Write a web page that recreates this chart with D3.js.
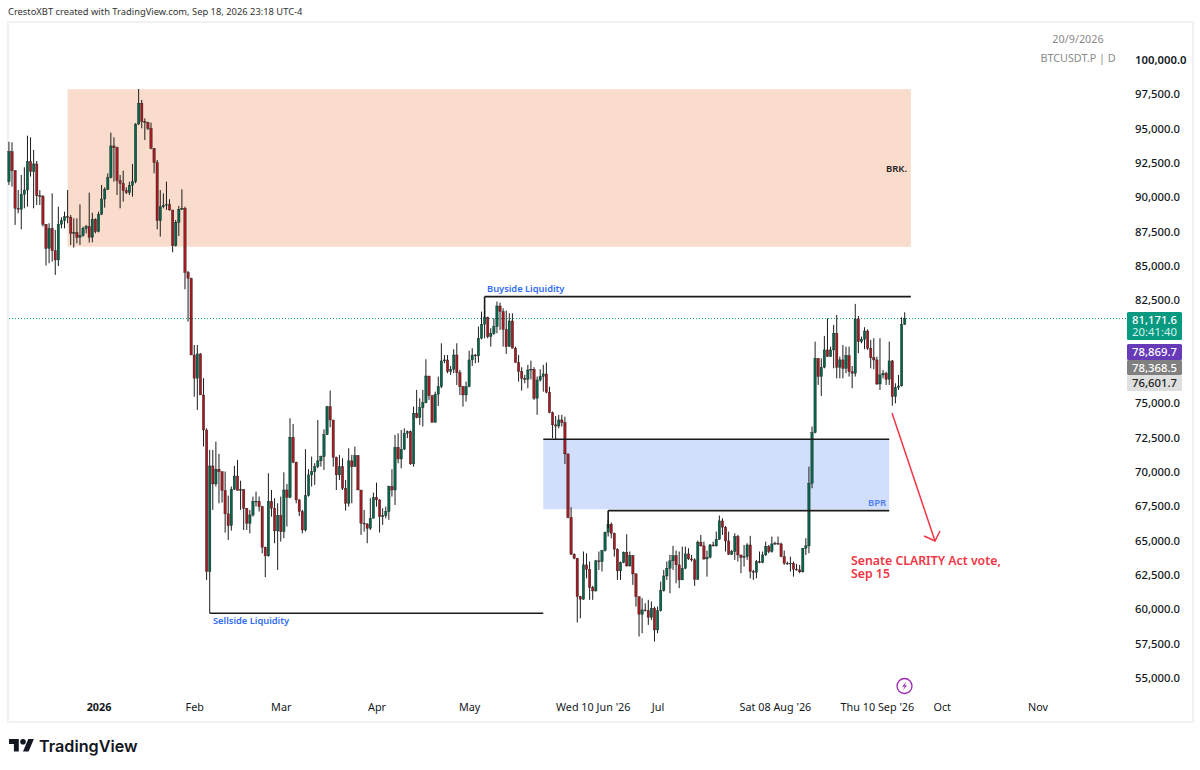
<!DOCTYPE html>
<html><head><meta charset="utf-8">
<script src="https://cdn.jsdelivr.net/npm/d3@7/dist/d3.min.js"></script>
<style>
html,body{margin:0;padding:0;background:#fff;overflow:hidden}
svg{display:block}
text{font-family:"Noto Sans","Open Sans",sans-serif}
</style></head><body>
<svg id="c" width="1200" height="770"></svg>
<script>
// Daily BTCUSDT.P candles, starting 3 Dec 2025, one per day
const firstDay = "2025-12-03";
const firstOpen = 91140;
const closes = [93330,91940,89200,89130,90220,90530,92600,91870,92430,90120,90070,88040,86290,87740,86120,85440,88040,88300,88590,88550,87380,87430,87090,87210,87740,87870,87090,88400,87500,88760,89880,90580,91430,93740,93620,91210,91020,90490,90340,90880,91140,95340,96850,95510,95440,95030,93570,92530,88300,89320,89420,89470,89080,86480,88180,89130,89200,84540,84100,78520,
76830,78600,75610,73060,62750,70440,69130,70200,70030,68650,66950,66100,68740,69710,68650,68740,67360,66270,66870,67870,67870,67480,64520,63890,67870,67360,65710,66830,65660,68690,68160,72530,70710,67970,67120,65780,68280,69790,70030,70390,70810,71120,72720,74760,73790,71070,69790,70390,68820,67720,70810,70390,71190,68690,66270,66220,65900,66630,68160,67970,66750,66830,67120,68940,68690,71800,70950,71660,72820,72940,70590,74280,73960,74690,
75050,76990,75560,73620,75660,76220,78090,78160,77310,77480,78520,77240,76220,75610,76220,78160,78520,78450,79740,80760,81270,79860,80100,80590,82090,81680,80390,79130,81000,79010,77970,77310,76820,76750,77430,77480,75370,76700,76950,77140,75810,74330,73430,73350,73790,73600,71320,66700,
64010,63720,60930,60740,63240,62920,61580,61340,63530,63480,64280,65610,66200,65540,64380,62800,63400,64160,63160,63910,62580,60930,59640,59960,59910,59420,60080,58500,59910,61370,62430,62990,63530,63910,63240,62140,62990,64040,63670,63600,62190,64890,64620,63670,63790,64690,64620,65100,66440,65980,64980,64010,64210,65300,63960,63770,63840,64690,62750,62700,63480,63400,63960,64570,64210,64760,64810,64760,63840,63360,63330,63360,62920,62870,62730,64450,64620,69180,72870,
78280,76950,77630,78890,78400,78890,80100,77630,78160,77550,78480,77310,77190,81150,79490,79660,80270,79010,78330,78160,76410,77070,77190,76750,78090,75490,76150,76270,80760,81171.6];
const highs = [94050,94010,91990,90530,91630,92190,94490,94370,93450,92650,90530,90170,88040,88110,90290,87620,89320,88550,88960,90530,88710,88470,88470,89490,87870,87990,90340,88880,88470,88960,90900,90730,91750,94710,94370,93690,91630,91940,90730,91140,92430,95390,97890,97090,95750,95510,95440,93570,92720,90530,90290,91140,89860,89080,88350,89370,90580,89320,84640,84150,
79250,79250,78650,76830,73180,71610,71610,72210,71320,70030,70030,68280,68940,70440,70880,69370,68330,67360,67240,68210,68570,68210,67530,64570,69910,68690,68090,67720,68210,69980,69130,73910,73500,70760,68020,67240,71660,70200,71120,70640,73790,71190,73110,74810,75930,73790,71120,71240,71000,69420,71730,71240,71850,71240,68690,67240,66270,68090,68500,69230,68020,67360,67480,69010,70200,72700,72820,73060,73180,73020,73020,74760,75980,75370,
75980,78210,76990,75610,75850,76950,79370,78520,78520,77720,78940,79370,77430,76270,76580,78840,79010,78600,80590,81680,81750,81310,80470,81190,82410,82330,81920,81750,81560,81560,79130,78520,77630,77070,77800,78110,77630,76950,77480,77800,77970,76220,74400,74080,74160,74160,74030,71320,
67430,64080,63720,60980,64210,64080,63480,61710,63600,64210,64330,65660,66510,66320,65590,64450,63480,64210,65470,64210,63960,62630,60930,60810,60440,60690,60570,60200,60200,62020,62870,63480,63960,64620,64280,64210,64570,64570,64450,63960,63720,65010,65420,64930,64280,64760,64930,65660,66830,66630,66070,65660,64330,65540,65420,63960,64690,64810,65350,62870,63600,64210,64210,64930,64690,65300,64930,65300,64860,64280,63480,63840,63480,63310,63240,64450,65180,70390,73310,
79490,78280,78280,79910,81190,79130,80710,81440,78400,79250,79130,79130,77720,82240,81360,79860,80540,80390,79620,79740,78400,79740,77430,77310,79490,78160,76460,77070,81270,81630];
const lows = [90900,90780,87990,88840,87670,89200,89320,91510,89200,89440,89440,87870,85030,85200,85320,84350,85000,87740,87740,88110,86530,86340,86650,86530,87140,87380,86700,86720,87380,87450,88710,89250,90530,91380,91140,90170,89200,89690,90240,90170,90050,91020,95270,95030,94180,94900,93500,91750,87670,87140,89200,89080,89030,86000,86410,87190,89080,83300,80950,78520,
75490,74520,75610,71850,62140,59720,67240,68940,67720,67770,65590,65050,65730,68690,68690,67240,65780,65780,65540,66750,67480,67120,64080,62340,63840,66750,64810,62870,64930,65180,66030,68090,70640,67720,66800,65540,65660,68210,68940,69060,70270,70390,70150,72700,73260,70390,68690,69420,68690,67190,67480,67720,70390,68690,65420,65660,64810,65780,66630,67480,65590,66150,66630,66510,68210,67600,70640,70270,71610,72460,70520,70390,73910,73430,
73310,75000,75250,73600,73600,74810,76100,77920,77190,77070,77190,76340,75610,74760,75130,76170,77720,77920,77970,79660,79740,79740,79130,79980,80100,80340,79130,78600,79130,79010,77970,76580,75930,76460,76100,76750,75250,74160,76580,75850,75730,74280,72460,72380,73180,73310,70590,66630,
63960,63650,59040,59350,60690,62260,60690,60690,61290,62870,62750,64210,65300,65180,63840,62140,62140,63360,63110,63110,61780,60200,58020,58260,59840,58870,59230,57650,58260,59840,61290,62140,61170,62870,61900,61540,62140,62920,63600,63480,61710,62140,64570,63600,62380,63720,64570,64570,65050,65420,64210,63960,63960,63600,63480,62630,63110,63600,62260,62140,62260,63360,63360,63890,64080,64130,64690,64690,63790,63240,63240,62750,62380,62820,62630,62680,63960,64080,68820,
72820,76340,75540,77550,78400,78400,77550,76820,76820,76820,77190,76950,76100,76950,78650,79370,78940,78890,77550,77480,76340,75980,76820,76340,76340,74830,75000,75980,76220,80710];

const priceTicks = [55000,57500,60000,62500,65000,67500,70000,72500,75000,82500,85000,87500,90000,92500,95000,97500,100000];
const timeTicks = ["2026-01-01","2026-02-01","2026-03-01","2026-04-01","2026-05-01","2026-06-10","2026-07-01","2026-08-08","2026-09-10","2026-10-01","2026-11-01"];
const timeLabels = ["2026","Feb","Mar","Apr","May","Wed 10 Jun '26","Jul","Sat 08 Aug '26","Thu 10 Sep '26","Oct","Nov"];
const priceTags = [["78,869.7","#673ab7","#fff"],["78,368.5","#808080","#fff"],["76,601.7","#dfdfdf","#222"]];
const lastPrice = 81171.6, countdown = "20:41:40";

const svg = d3.select("#c");
const day = 864e5, t0 = Date.parse(firstDay+"T00:00:00Z");
const x = d3.scaleUtc().domain([new Date("2026-01-01T00:00:00Z"),new Date("2026-11-01T00:00:00Z")]).range([98.5,1037.5]);
const y = d3.scaleLinear().domain([55000,100000]).range([678,60]);
const candles = closes.map((c,i)=>({date:new Date(t0+i*day),o:i?closes[i-1]:firstOpen,h:highs[i],l:lows[i],c}));

// frame
svg.append("rect").attr("x",8).attr("y",22).attr("width",1185).attr("height",700).attr("fill","#fff").attr("stroke","#f1f1f1").attr("stroke-width",2);

// zones
const zone=(p1,p2,d1,d2,fill)=>svg.append("rect").attr("x",x(new Date(d1))).attr("width",x(new Date(d2))-x(new Date(d1)))
  .attr("y",y(p1)).attr("height",y(p2)-y(p1)).attr("fill",fill);
zone(97870,86400,"2025-12-22","2026-09-21","#f9dccb");
zone(72390,67290,"2026-05-25","2026-09-14","#d1dffd");

// last price dotted
svg.append("line").attr("x1",9).attr("x2",1127).attr("y1",y(lastPrice)).attr("y2",y(lastPrice))
  .attr("stroke","#089981").attr("stroke-dasharray","1 2").attr("stroke-width",1);

// candles
const g = svg.append("g");
g.selectAll("line").data(candles).join("line")
  .attr("x1",d=>x(d.date)).attr("x2",d=>x(d.date)).attr("y1",d=>y(d.h)).attr("y2",d=>y(d.l))
  .attr("stroke","#1c1c1c").attr("stroke-width",1);
g.selectAll("rect").data(candles).join("rect")
  .attr("x",d=>x(d.date)-1.2).attr("width",2.4)
  .attr("y",d=>y(Math.max(d.o,d.c))).attr("height",d=>Math.max(0.8,Math.abs(y(d.o)-y(d.c))))
  .attr("fill",d=>d.c>=d.o?"#07634a":"#a01c22").attr("stroke","#1c1c1c").attr("stroke-width",0.35);

// annotation lines
const seg=(d1,p1,d2,p2)=>svg.append("line").attr("x1",x(new Date(d1))).attr("x2",x(new Date(d2))).attr("y1",y(p1)).attr("y2",y(p2))
  .attr("stroke","#1a1a1a").attr("stroke-width",1.6);
seg("2026-05-06",82770,"2026-09-21",82770);
seg("2026-05-06",82770,"2026-05-06",81250);
seg("2026-02-06",59720,"2026-05-25",59720);
seg("2026-05-25",72390,"2026-09-14",72390);
seg("2026-06-15",67190,"2026-09-14",67190);
seg("2026-06-15",67190,"2026-06-15",65900);

const lab=(t,px,py,fill,size,weight,anchor)=>svg.append("text").attr("x",px).attr("y",py).attr("fill",fill).attr("font-size",size)
  .attr("font-weight",weight||400).attr("text-anchor",anchor||"start").text(t);
lab("Buyside Liquidity",487,292,"#2f6bf5",9.3,600);
lab("Sellside Liquidity",213,624,"#2f6bf5",9.3,600);
lab("BPR",868,506,"#4f7df3",9.5,600);
lab("BRK.",886,172,"#222",9.5,600);
lab("Senate CLARITY Act vote,",851,565,"#f23645",12.3,600);
lab("Sep 15",851,578,"#f23645",12.3,600);

// arrow
const red = d3.line();
svg.append("path").attr("d",red([[892,413],[935,541]])).attr("fill","none").attr("stroke","#f23645").attr("stroke-width",1.5);
svg.append("path").attr("d",red([[924,536],[935,541],[940,531]])).attr("fill","none").attr("stroke","#f23645").attr("stroke-width",1.5);

// axes
const ay = svg.append("g").attr("transform","translate(1127,0)")
  .call(d3.axisRight(y).tickValues(priceTicks).tickSize(0).tickPadding(8).tickFormat(d3.format(",.1f")));
ay.select(".domain").remove();
ay.selectAll("text").attr("font-size",11.3).attr("fill","#131722").style("font-family",'"Noto Sans"').attr("font-weight",d=>d===100000?600:500);
const ax = svg.append("g").attr("transform","translate(0,703)")
  .call(d3.axisBottom(x).tickValues(timeTicks.map(d=>new Date(d+"T00:00:00Z"))).tickSize(0).tickPadding(0)
    .tickFormat((d,i)=>timeLabels[i]));
ax.select(".domain").remove();
ax.selectAll("text").attr("font-size",10.8).attr("fill","#131722").style("font-family",'"Noto Sans"').attr("font-weight",(d,i)=>i===0?700:400);

// price tags
const tag=(py,h,fill)=>svg.append("rect").attr("x",1127).attr("y",py).attr("width",55).attr("height",h).attr("rx",1.5).attr("fill",fill);
tag(312,28,"#089981");
lab(d3.format(",.1f")(lastPrice),1154.5,324,"#fff",11.3,500,"middle");
lab(countdown,1154.5,336,"#d7f2ec",11.3,400,"middle");
priceTags.forEach((t,i)=>{const py=[344,360,375][i],h=[16,15,16][i];tag(py,h,t[1]);lab(t[0],1154.5,py+12,t[2],11.3,500,"middle");});

// header & symbol
lab("CrestoXBT created with TradingView.com, Sep 18, 2026 23:18 UTC-4",8,14.5,"#333",9.35,400);
lab("20/9/2026",1078,43,"#8a8a8a",10.8,400,"middle");
lab("BTCUSDT.P | D",1078,62,"#8a8a8a",10.8,400,"middle");

// event icon
svg.append("circle").attr("cx",904.5).attr("cy",686).attr("r",7.5).attr("fill","#fff").attr("stroke","#9c27b0").attr("stroke-width",1.3);
svg.append("path").attr("d","M906.5 681.5 L902 686.8 L904.8 686.6 L902.8 690.5 L907.2 685.2 L904.6 685.4 Z").attr("fill","#9c27b0");

// logo
svg.append("g").attr("transform","translate(9,736.2) scale(0.7)").append("path")
  .attr("d","M14 22H7V11H0V4h14v18zM28 22h-8l7.5-18h8L28 22z").attr("fill","#131722");
svg.append("circle").attr("cx",9+20*0.7).attr("cy",736.2+8*0.7).attr("r",2.8).attr("fill","#131722");
svg.append("text").attr("x",39).attr("y",752).attr("font-size",16.2).attr("font-weight",600).attr("fill","#131722").style("font-family","Inter").text("TradingView");
</script>
</body></html>
